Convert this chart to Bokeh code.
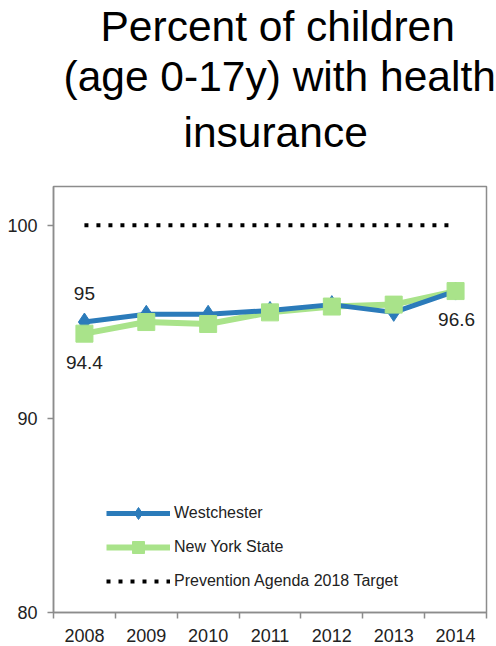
from bokeh.plotting import figure
from bokeh.models import FixedTicker, Range1d, Legend, LegendItem, Label, Title
from bokeh.embed import file_html
from bokeh.resources import INLINE

years = [2008, 2009, 2010, 2011, 2012, 2013, 2014]
westchester = [95.0, 95.4, 95.4, 95.6, 95.9, 95.5, 96.6]
new_york_state = [94.4, 95.0, 94.9, 95.5, 95.8, 95.9, 96.6]
target = [100, 100, 100, 100, 100, 100, 100]
y_ticks = [80, 90, 100]

FONT = "Liberation Sans"
BLUE = "#2b7bba"
GREEN = "#a9e38a"
AXIS_GREY = "#8c8c8c"
TEXT = "#222222"

p = figure(width=496, height=646, output_backend="svg", toolbar_location=None,
           x_range=Range1d(2007.5, 2014.5), y_range=Range1d(80, 102),
           min_border_left=53, min_border_right=10, min_border_bottom=34,
           min_border_top=0)
p.title = None

# blank strip between the heading and the frame
p.add_layout(Title(text=" ", text_font_size="1px", standoff=21), "above")

# three-line heading, added bottom line first so it sits next to the frame
heading = [("insurance", 13, 130),
           ("(age 0-17y) with health", 2, 10),
           ("Percent of children", 0, 47)]
for line, gap, shift in heading:
    t = Title(text=line, align="left", text_font=FONT,
              text_font_size="42.5px", text_font_style="normal",
              text_color="#000000", standoff=gap, offset=shift)
    p.add_layout(t, "above")

p.grid.visible = False
p.outline_line_color = AXIS_GREY
p.outline_line_width = 1.5

# x axis: labels at year centres, tick marks on the category boundaries
p.xaxis.ticker = FixedTicker(ticks=years,
                             minor_ticks=[y + 0.5 for y in [2007] + years])
p.xaxis.major_tick_line_color = None
p.xaxis.minor_tick_out = 6
p.xaxis.minor_tick_in = 0
p.xaxis.minor_tick_line_color = AXIS_GREY
p.xaxis.minor_tick_line_width = 1.5
p.xaxis.axis_line_color = AXIS_GREY
p.xaxis.axis_line_width = 1.5
p.xaxis.major_label_text_font = FONT
p.xaxis.major_label_text_font_size = "18px"
p.xaxis.major_label_text_color = TEXT
p.xaxis.major_label_standoff = 10

p.yaxis.ticker = FixedTicker(ticks=y_ticks)
p.yaxis.minor_tick_line_color = None
p.yaxis.major_tick_out = 6
p.yaxis.major_tick_in = 0
p.yaxis.major_tick_line_color = AXIS_GREY
p.yaxis.major_tick_line_width = 1.5
p.yaxis.axis_line_color = AXIS_GREY
p.yaxis.axis_line_width = 1.5
p.yaxis.major_label_text_font = FONT
p.yaxis.major_label_text_font_size = "18px"
p.yaxis.major_label_text_color = TEXT
p.yaxis.major_label_standoff = 10

# series
tgt = p.line(years, target, line_color="#000000", line_width=4,
             line_dash="4 8")
nys_line = p.line(years, new_york_state, line_color=GREEN, line_width=6)
wc_line = p.line(years, westchester, line_color=BLUE, line_width=5)
wc_pts = p.scatter(years, westchester, marker="diamond", size=18,
                   fill_color=BLUE, line_color=BLUE)
nys_pts = p.scatter(years, new_york_state, marker="square", size=17,
                    fill_color=GREEN, line_color=GREEN)

# value labels
lbl_style = dict(text_font=FONT, text_font_size="19px", text_color=TEXT,
                 text_align="center")
p.add_layout(Label(x=years[0], y=westchester[0], text=f"{westchester[0]:g}",
                   y_offset=22, text_baseline="bottom", **lbl_style))
p.add_layout(Label(x=years[0], y=new_york_state[0],
                   text=f"{new_york_state[0]:g}", y_offset=-22,
                   text_baseline="top", **lbl_style))
p.add_layout(Label(x=years[-1], y=westchester[-1], text=f"{westchester[-1]:g}",
                   x_offset=1, y_offset=-22, text_baseline="top", **lbl_style))

legend = Legend(items=[
    LegendItem(label="Westchester", renderers=[wc_line, wc_pts]),
    LegendItem(label="New York State", renderers=[nys_line, nys_pts]),
    LegendItem(label="Prevention Agenda 2018 Target", renderers=[tgt]),
], location=(53, 16), background_fill_alpha=0, border_line_color=None,
    label_text_font=FONT, label_text_font_size="16px",
    label_text_color=TEXT, glyph_width=64, glyph_height=30,
    label_height=30, spacing=4, padding=4, label_standoff=4)
p.add_layout(legend, "center")

open("out.html", "w").write(file_html(p, INLINE))
